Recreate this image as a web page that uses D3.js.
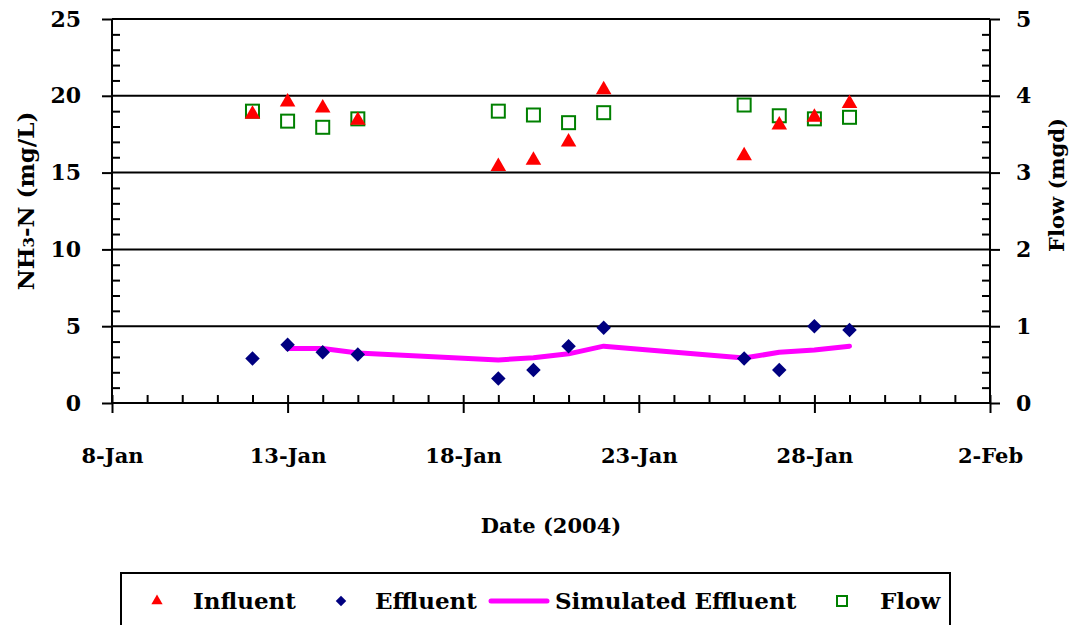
<!DOCTYPE html>
<html><head><meta charset="utf-8">
<script src="https://cdn.jsdelivr.net/npm/d3@7/dist/d3.min.js"></script>
<style>
html,body{margin:0;padding:0;background:#fff;}
svg{display:block;}
text{font-family:"DejaVu Serif",serif;font-weight:bold;fill:#000;}
</style></head>
<body><svg id="c" width="1083" height="625"></svg>
<script>
// ---- data ----
const dates = ["2004-01-12","2004-01-13","2004-01-14","2004-01-15","2004-01-19","2004-01-20","2004-01-21","2004-01-22","2004-01-26","2004-01-27","2004-01-28","2004-01-29"];
const influent = [18.8, 19.6, 19.2, 18.4, 15.4, 15.8, 17.0, 20.4, 16.1, 18.1, 18.6, 19.5];
const effluent = [2.9, 3.8, 3.3, 3.15, 1.6, 2.15, 3.7, 4.9, 2.9, 2.15, 5.0, 4.75];
const simDates = ["2004-01-13","2004-01-14","2004-01-15","2004-01-19","2004-01-20","2004-01-21","2004-01-22","2004-01-26","2004-01-27","2004-01-28","2004-01-29"];
const simulated = [3.55, 3.55, 3.25, 2.8, 2.95, 3.2, 3.7, 2.93, 3.3, 3.45, 3.7];
const flow = [3.8, 3.67, 3.59, 3.7, 3.8, 3.75, 3.65, 3.78, 3.88, 3.74, 3.7, 3.72];
const xTickDates = ["2004-01-08","2004-01-13","2004-01-18","2004-01-23","2004-01-28","2004-02-02"];
const xTickLabels = ["8-Jan","13-Jan","18-Jan","23-Jan","28-Jan","2-Feb"];
const yLeftTicks = [0,5,10,15,20,25];
const yRightTicks = [0,1,2,3,4,5];
const legendLabels = ["Influent","Effluent","Simulated Effluent","Flow"];

const parse = d3.utcParse("%Y-%m-%d");
const svg = d3.select("#c");
const L = 112, R = 990, T = 19, B = 403;

const x = d3.scaleUtc().domain([parse(xTickDates[0]), parse(xTickDates[xTickDates.length-1])]).range([L, R]);
const yL = d3.scaleLinear().domain([0,25]).range([B, T]);
const yR = d3.scaleLinear().domain([0,5]).range([B, T]);

// gridlines
svg.append("g").selectAll("line").data(yLeftTicks.filter(d=>d>0)).join("line")
  .attr("x1", L).attr("x2", R).attr("y1", d=>yL(d)).attr("y2", d=>yL(d))
  .attr("stroke", "#000").attr("stroke-width", 2);

// left axis (outward majors + labels)
const gl = svg.append("g").attr("transform", `translate(${L},0)`)
  .call(d3.axisLeft(yL).tickValues(yLeftTicks).tickSize(10).tickPadding(21).tickFormat(d3.format("d")));
gl.select(".domain").attr("stroke-width", 2).attr("d", `M0,${B}V${T}`);
gl.selectAll(".tick line").attr("stroke-width", 2);
gl.selectAll("text").style("font-size", "22px").style("font-family", "DejaVu Serif").attr("fill", "#000");
// left minor inward
const minL = d3.range(0, 26, 1).filter(d=>d%5!==0);
const gl2 = svg.append("g").attr("transform", `translate(${L},0)`)
  .call(d3.axisLeft(yL).tickValues(minL).tickSize(-8).tickFormat(""));
gl2.select(".domain").remove();
gl2.selectAll(".tick line").attr("stroke-width", 2);

// right axis
const gr = svg.append("g").attr("transform", `translate(${R},0)`)
  .call(d3.axisRight(yR).tickValues(yRightTicks).tickSize(10).tickPadding(16).tickFormat(d3.format("d")));
gr.select(".domain").attr("stroke-width", 2).attr("d", `M0,${B}V${T}`);
gr.selectAll(".tick line").attr("stroke-width", 2);
gr.selectAll("text").style("font-size", "22px").style("font-family", "DejaVu Serif").attr("fill", "#000");
const minR = d3.range(0, 25, 1).filter(d=>d%5!==0).map(d=>d/5);
const gr2 = svg.append("g").attr("transform", `translate(${R},0)`)
  .call(d3.axisRight(yR).tickValues(minR).tickSize(-8).tickFormat(""));
gr2.select(".domain").remove();
gr2.selectAll(".tick line").attr("stroke-width", 2);

// x axis
const xt = xTickDates.map(parse);
const gx = svg.append("g").attr("transform", `translate(0,${B})`)
  .call(d3.axisBottom(x).tickValues(xt).tickSize(10).tickPadding(35).tickFormat((d,i)=>xTickLabels[i]));
gx.select(".domain").attr("stroke-width", 2).attr("d", `M${L},0H${R}`);
gx.selectAll(".tick line").attr("stroke-width", 2);
gx.selectAll("text").style("font-size", "21px").style("font-family", "DejaVu Serif").attr("fill", "#000");
const gx2 = svg.append("g").attr("transform", `translate(0,${B})`)
  .call(d3.axisBottom(x).tickValues(d3.utcDay.range(xt[0], d3.utcDay.offset(xt[xt.length-1],1))).tickSize(-8).tickFormat(""));
gx2.select(".domain").remove();
gx2.selectAll(".tick line").attr("stroke-width", 2);

// axis titles
svg.append("text").attr("x", (L+R)/2).attr("y", 533).attr("text-anchor","middle").style("font-size","21px").text("Date (2004)");
const t1 = svg.append("text").attr("transform", `translate(34,201) rotate(-90)`).attr("text-anchor","middle").style("font-size","23px");
t1.append("tspan").text("NH");
t1.append("tspan").style("font-size","15px").text("3");
t1.append("tspan").text("-N (mg/L)");
svg.append("text").attr("transform", `translate(1064,185) rotate(-90)`).attr("text-anchor","middle").style("font-size","21px").text("Flow (mgd)");

// symbols
const tri = d3.symbol().type(d3.symbolTriangle).size(105);
const dia = d3.symbol().type(d3.symbolSquare).size(105);

// flow squares
svg.append("g").selectAll("rect").data(flow).join("rect")
  .attr("x", (d,i)=>x(parse(dates[i]))-6.5).attr("y", d=>yR(d)-6.5)
  .attr("width", 13).attr("height", 13)
  .attr("fill", "none").attr("stroke", "#008000").attr("stroke-width", 2);

// simulated line
svg.append("path").datum(simulated)
  .attr("d", d3.line().x((d,i)=>x(parse(simDates[i]))).y(d=>yL(d)))
  .attr("fill","none").attr("stroke","#FF00FF").attr("stroke-width",5).attr("stroke-linejoin","round").attr("stroke-linecap","round");

// influent triangles
svg.append("g").selectAll("path").data(influent).join("path")
  .attr("d", tri).attr("transform", (d,i)=>`translate(${x(parse(dates[i]))},${yL(d)})`)
  .attr("fill", "#FF0000");

// effluent diamonds
svg.append("g").selectAll("path").data(effluent).join("path")
  .attr("d", dia).attr("transform", (d,i)=>`translate(${x(parse(dates[i]))},${yL(d)}) rotate(45)`)
  .attr("fill", "#000080");

// legend
svg.append("rect").attr("x",121).attr("y",573).attr("width",829).attr("height",70)
  .attr("fill","#fff").attr("stroke","#000").attr("stroke-width",2);
const ly = 601;
svg.append("path").attr("d", d3.symbol().type(d3.symbolTriangle).size(55)).attr("transform",`translate(157,${ly})`).attr("fill","#FF0000");
svg.append("path").attr("d", d3.symbol().type(d3.symbolSquare).size(55)).attr("transform",`translate(341,${ly}) rotate(45)`).attr("fill","#000080");
svg.append("line").attr("x1",491).attr("x2",547).attr("y1",ly).attr("y2",ly).attr("stroke","#FF00FF").attr("stroke-width",5).attr("stroke-linecap","round");
svg.append("rect").attr("x",837).attr("y",ly-5).attr("width",10).attr("height",10).attr("fill","none").attr("stroke","#008000").attr("stroke-width",2);
const lx = [193, 375, 555, 880];
svg.append("g").selectAll("text").data(legendLabels).join("text")
  .attr("x",(d,i)=>lx[i]).attr("y", ly+8).style("font-size","23px").text(d=>d);
</script></body></html>
